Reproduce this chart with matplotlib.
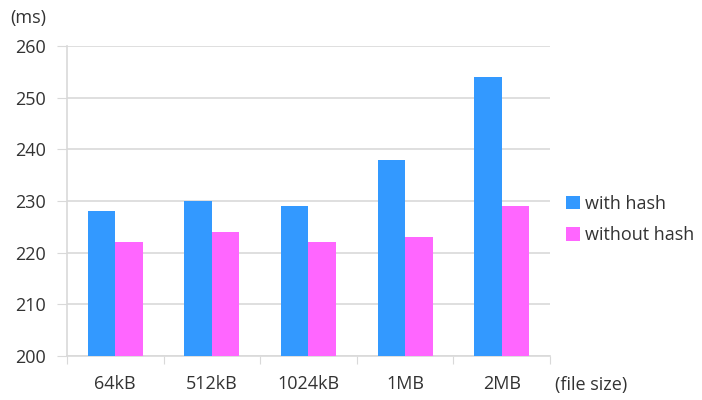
import matplotlib.pyplot as plt
import numpy as np

categories = ["64kB", "512kB", "1024kB", "1MB", "2MB"]
with_hash = [228, 230, 229, 238, 254]
without_hash = [222, 224, 222, 223, 229]

plt.rcParams['font.family'] = ['Open Sans', 'DejaVu Sans']

fig = plt.figure(figsize=(7.02, 4.0), dpi=100)
ax = fig.add_axes([0.0954, 0.11, 0.688, 0.775])

x = np.arange(len(categories))
w = 0.285
ax.bar(x - w / 2, with_hash, w, color='#3399FF', label='with hash', zorder=3)
ax.bar(x + w / 2, without_hash, w, color='#FF66FF', label='without hash', zorder=3)

ax.set_xlim(-0.5, len(categories) - 0.5)
ax.set_ylim(200, 260)
ax.set_yticks(range(200, 261, 10))
ax.yaxis.grid(True, color='#D9D9D9', linewidth=1.2, zorder=0)
ax.tick_params(axis='y', length=7, labelsize=13, labelcolor='#333333', color='#D9D9D9', pad=8)

# x ticks at category boundaries, labels in between
ax.set_xticks(np.arange(-0.5, len(categories), 1.0))
ax.set_xticklabels([])
ax.set_xticks(x, minor=True)
ax.set_xticklabels(categories, minor=True)
ax.tick_params(axis='x', which='major', length=6, color='#D9D9D9')
ax.tick_params(axis='x', which='minor', length=0, labelsize=13, labelcolor='#333333', pad=14)

for side in ['top', 'right']:
    ax.spines[side].set_visible(False)
for side in ['left', 'bottom']:
    ax.spines[side].set_color('#D9D9D9')
    ax.spines[side].set_linewidth(1.2)

fig.text(0.014, 0.955, "(ms)", fontsize=13, color='#333333', va='center')
fig.text(0.79, 0.037, "(file size)", fontsize=13, color='#333333', va='center')

ax.legend(loc='center left', bbox_to_anchor=(1.0, 0.44), frameon=False,
          fontsize=13, handlelength=0.75, handleheight=0.75, handletextpad=0.3,
          labelspacing=0.75, labelcolor='#333333')

fig.savefig("out.png", dpi=100)
